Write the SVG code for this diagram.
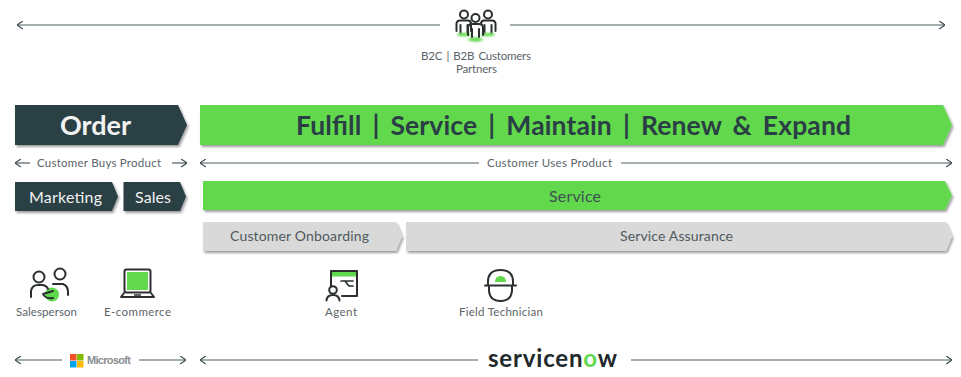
<svg xmlns="http://www.w3.org/2000/svg" width="961" height="377" viewBox="0 0 961 377">
<style>
text{font-family:"Lato","Liberation Sans",sans-serif;text-anchor:middle;font-weight:400}
.lab{font-size:11.500px;fill:#5b6468}
.sm{font-size:14px;fill:#4f5a5e}
.dark{fill:#2a3f45;filter:url(#sh)}
.green{fill:#62d84e;filter:url(#sh)}
.gray{fill:#d9d9d9;filter:url(#sh)}
.ln{fill:none;stroke:#4f5f63;stroke-width:1.2;marker-end:url(#a)}
.ic{fill:none;stroke:#2b2f30;stroke-width:2;stroke-linecap:round;stroke-linejoin:round}
.gf{fill:#62d84e}
</style>
<defs>
<filter id="sh" x="-5%" y="-20%" width="110%" height="150%"><feDropShadow dx="1.5" dy="2" stdDeviation="1" flood-color="#000" flood-opacity=".38"/></filter>
<filter id="bl" x="-30%" y="-100%" width="160%" height="300%"><feGaussianBlur stdDeviation=".8"/></filter>
<marker id="a" viewBox="0 0 10 10" refX="9.500" refY="5" markerWidth="9" markerHeight="9" markerUnits="userSpaceOnUse" orient="auto"><path d="M3 0.500 9.500 5 3 9.500" fill="none" stroke="#3b4a4e" stroke-width="1.200"/></marker>
</defs>
<g id="connectors">
<path class="ln" d="M440 25H17"/><path class="ln" d="M510 25H945"/>
<path class="ln" d="M30 163H15"/><path class="ln" d="M172 163H187"/>
<path class="ln" d="M479 163H200"/><path class="ln" d="M621 163H952"/>
<path class="ln" d="M62 360H15"/><path class="ln" d="M139 360H186"/>
<path class="ln" d="M478 360H200"/><path class="ln" d="M631 360H952"/>
</g>
<g id="customers">
<g class="ic"><circle cx="464" cy="14.500" r="4"/><path d="M456.500 31V24Q456.500 20.500 460 20.500H468Q471 20.500 471 24V31M460.500 25V33M467.500 25V33"/><circle cx="488" cy="14.500" r="4"/><path d="M481 24Q481 20.500 484 20.500H492Q495.500 20.500 495.500 24V31M484.500 25V33M491.500 25V33"/></g>
<ellipse class="gf" cx="464" cy="34.500" rx="7" ry="1.800" filter="url(#bl)"/><ellipse class="gf" cx="488" cy="34.500" rx="7" ry="1.800" filter="url(#bl)"/><ellipse class="gf" cx="475.500" cy="39.500" rx="7.500" ry="2.200" filter="url(#bl)"/>
<g class="ic"><circle cx="475.500" cy="18" r="4"/><path d="M468 35V28Q468 24 472 24H479Q483 24 483 28V35M472 29V37M479 29V37"/></g>
<text class="lab" x="476" y="60" textLength="110" word-spacing="1.500">B2C | B2B Customers</text><text class="lab" x="476.500" y="73" textLength="41">Partners</text>
</g>
<g id="order"><path class="dark" d="M15 105H178L187 125 178 145H15Z"/><text x="95.500" y="135" font-size="27" style="font-weight:700" fill="#f2f2f2" textLength="71">Order</text></g>
<g id="fulfill"><path class="green" d="M200 105H943L952 125 943 145H200Z"/><text x="573.500" y="135" font-size="26.500" word-spacing="4.500" style="font-weight:700" fill="#2a3f45" textLength="555">Fulfill | Service | Maintain | Renew &amp; Expand</text></g>
<g id="buys"><text class="lab" x="99" y="167" textLength="124">Customer Buys Product</text></g>
<g id="uses"><text class="lab" x="549.500" y="167" textLength="125">Customer Uses Product</text></g>
<g id="marketing"><path class="dark" d="M15 182H112L118 196.500 112 211H15Z"/><text x="65.500" y="203" font-size="16" fill="#f2f2f2" textLength="73">Marketing</text></g>
<g id="sales"><path class="dark" d="M123.500 182H180L186 196.500 180 211H123.500Z"/><text x="153" y="203" font-size="16" fill="#f2f2f2" textLength="36">Sales</text></g>
<g id="service"><path class="green" d="M203 181H945L952 195.500 945 210H203Z"/><text x="575" y="202" font-size="16" fill="#3f4f53" textLength="52">Service</text></g>
<g id="onboarding"><path class="gray" d="M203 222H396L402 236.500 396 251H203Z"/><text class="sm" x="299.500" y="241" textLength="139">Customer Onboarding</text></g>
<g id="assurance"><path class="gray" d="M406 222H946L952 236.500 946 251H406Z"/><text class="sm" x="676.500" y="241" textLength="113">Service Assurance</text></g>
<g id="salesperson">
<circle class="gf" cx="52" cy="294.500" r="7"/>
<g class="ic"><circle cx="39" cy="277" r="5.500"/><path d="M31 297V291Q32 285 38 285H43Q47 286 48 289M43 294 53 291M43 294Q45 299 53 298"/><circle cx="60" cy="274" r="5.500"/><path d="M53 284H63Q68 286 68 292V295"/></g>
<text class="lab" x="46.500" y="316" textLength="61">Salesperson</text>
</g>
<g id="ecommerce">
<rect class="gf" x="127" y="272" width="21" height="18"/>
<g class="ic"><rect x="124.500" y="269.500" width="26" height="23" rx="2"/><path d="M124 293 121 297H154L151 293"/></g><path d="M134 295H141" stroke="#2b2f30" stroke-width="1.500"/>
<text class="lab" x="137.500" y="316" textLength="67">E-commerce</text>
</g>
<g id="agent">
<rect class="gf" x="331" y="271.500" width="25" height="5"/>
<g class="ic"><path d="M331 286V271H357V296H342"/><path d="M341 281H353M345 281 349 286H353" stroke-width="1.700"/><circle cx="333" cy="290" r="3.800"/><path d="M326.500 300.500Q327 295 333 295Q339 295 339.500 300.500"/></g>
<text class="lab" x="341" y="316" textLength="32">Agent</text>
</g>
<g id="technician">
<path class="gf" d="M495 282Q495 276 500.500 276Q506 276 506 282Z"/>
<g class="ic"><path d="M488 284Q487 270 500.500 270Q514 270 513 284M485 285.500H516M489 286V291Q490 301 500.500 301Q511 301 512 291V286"/></g>
<text class="lab" x="501" y="316" textLength="84">Field Technician</text>
</g>
<g id="microsoft">
<rect x="70" y="354" width="6.500" height="6.500" fill="#f25022"/><rect x="77" y="354" width="6.500" height="6.500" fill="#7fba00"/><rect x="70" y="361" width="6.500" height="6.500" fill="#00a4ef"/><rect x="77" y="361" width="6.500" height="6.500" fill="#ffb900"/>
<text x="109" y="364" font-size="11" fill="#8a8f92" textLength="44" style="font-family:'Liberation Sans',sans-serif;font-weight:700">Microsoft</text>
</g>
<g id="servicenow"><text x="552.500" y="367" font-size="24" fill="#22292b" textLength="129" style="font-weight:700">servicen<tspan fill="#62d84e">o</tspan>w</text></g>
</svg>
